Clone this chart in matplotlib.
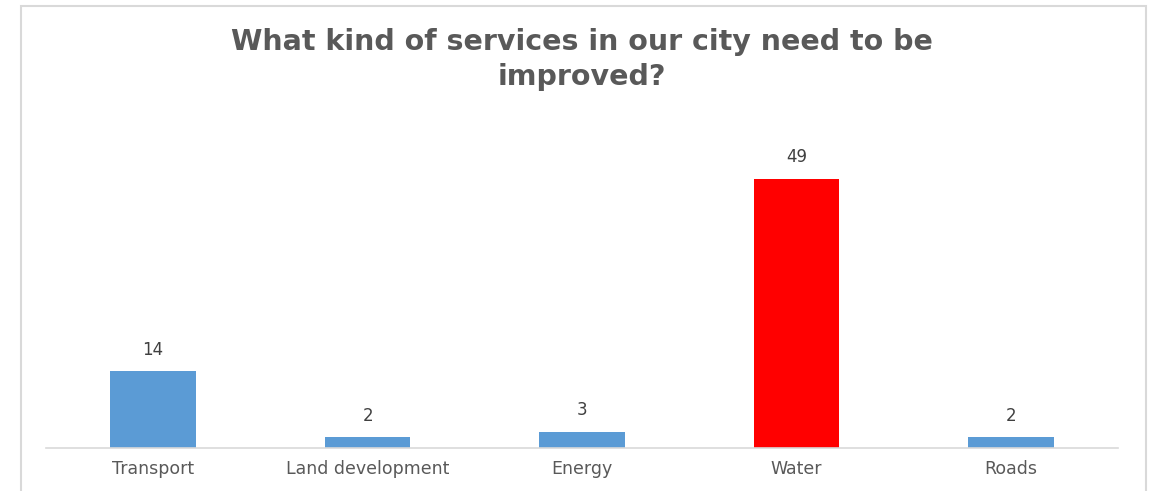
import matplotlib
matplotlib.use('Agg')
import matplotlib.pyplot as plt
from matplotlib.patches import Rectangle

# Survey answers
categories = ['Transport', 'Land development', 'Energy', 'Water', 'Roads']
responses = [14, 2, 3, 49, 2]
highlight = 'Water'

title = 'What kind of services in our city need to be\nimproved?'

fig = plt.figure(figsize=(11.52, 4.91), dpi=100)
ax = fig.add_axes([0.0399, 0.0876, 0.9306, 0.6709])

colors = ['#FF0000' if c == highlight else '#5B9BD5' for c in categories]
bars = ax.bar(categories, responses, width=0.40, color=colors)

ax.set_ylim(0, 60)
ax.set_xlim(-0.5, len(categories) - 0.5)

# value labels above bars
for rect, val in zip(bars, responses):
    ax.annotate(str(val), (rect.get_x() + rect.get_width() / 2, rect.get_height()),
                xytext=(0, 9), textcoords='offset points',
                ha='center', va='bottom', fontsize=12, color='#404040')

for side in ['top', 'right', 'left']:
    ax.spines[side].set_visible(False)
ax.spines['bottom'].set_color('#D9D9D9')
ax.spines['bottom'].set_linewidth(1.2)
ax.set_yticks([])
ax.tick_params(axis='x', length=0, pad=9, labelsize=12.5, labelcolor='#595959')

fig.text(0.505, 0.943, title, ha='center', va='top', fontsize=20.5,
         fontweight='bold', color='#595959', linespacing=1.32)

# chart border
fig.patches.append(Rectangle((21 / 1152, -0.05), 1125 / 1152, 1.0378,
                             transform=fig.transFigure, fill=False,
                             edgecolor='#D9D9D9', linewidth=1.5))

fig.savefig('out.png', dpi=100)
